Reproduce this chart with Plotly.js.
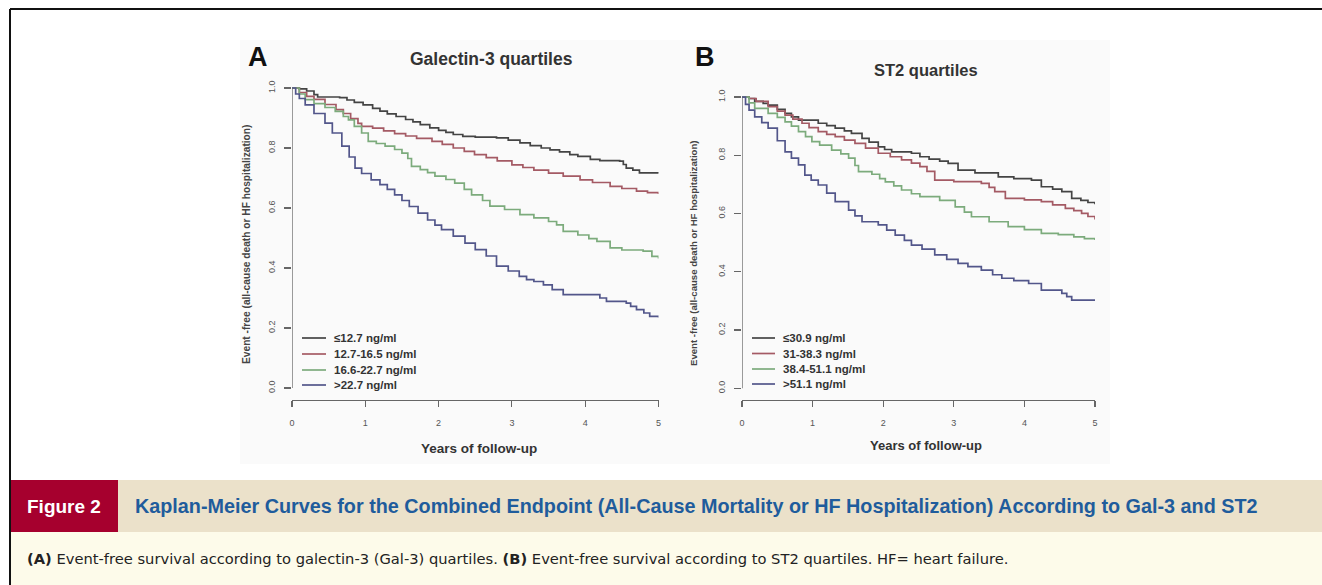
<!DOCTYPE html>
<html>
<head>
<meta charset="utf-8">
<script src="https://cdn.plot.ly/plotly-3.0.1.min.js"></script>
<style>
  html, body { margin: 0; padding: 0; background: #ffffff; }
  #chart { width: 1322px; height: 585px; }
</style>
</head>
<body>
<div id="chart"></div>
<script>
// ---- Panel A: galectin-3 quartiles (Kaplan-Meier event-free survival) ----
const galNames = ["\u226412.7 ng/ml", "12.7-16.5 ng/ml", "16.6-22.7 ng/ml", ">22.7 ng/ml"];

const galQ1Time = [0, 0.1, 0.2, 0.3, 0.35, 0.65, 0.75, 0.85, 0.97, 1.1, 1.2, 1.3, 1.42, 1.55, 1.65, 1.75, 1.88, 2.0, 2.1, 2.2, 2.33, 2.5, 2.79, 2.95, 3.11, 3.25, 3.4, 3.52, 3.65, 3.79, 3.9, 4.07, 4.2, 4.47, 4.52, 4.56, 4.65, 4.74, 5.0];
const galQ1Surv = [1.0, 0.997, 0.99, 0.978, 0.970, 0.968, 0.96, 0.952, 0.944, 0.932, 0.923, 0.914, 0.905, 0.895, 0.887, 0.878, 0.867, 0.859, 0.852, 0.845, 0.839, 0.836, 0.834, 0.826, 0.817, 0.808, 0.800, 0.794, 0.787, 0.778, 0.772, 0.762, 0.758, 0.756, 0.745, 0.733, 0.726, 0.717, 0.715];

const galQ2Time = [0, 0.1, 0.2, 0.3, 0.45, 0.6, 0.7, 0.8, 0.9, 0.95, 1.1, 1.25, 1.4, 1.55, 1.7, 1.91, 2.05, 2.2, 2.35, 2.49, 2.65, 2.8, 3.0, 3.15, 3.3, 3.5, 3.7, 3.93, 4.1, 4.34, 4.5, 4.7, 4.85, 5.0];
const galQ2Surv = [1.0, 0.985, 0.972, 0.962, 0.945, 0.928, 0.915, 0.898, 0.882, 0.872, 0.866, 0.857, 0.848, 0.84, 0.832, 0.822, 0.812, 0.800, 0.789, 0.778, 0.768, 0.757, 0.744, 0.735, 0.726, 0.716, 0.706, 0.694, 0.685, 0.672, 0.665, 0.656, 0.651, 0.647];

const galQ3Time = [0, 0.1, 0.18, 0.3, 0.45, 0.59, 0.7, 0.77, 0.85, 0.95, 1.04, 1.15, 1.27, 1.4, 1.5, 1.58, 1.63, 1.75, 1.85, 1.95, 2.1, 2.22, 2.35, 2.45, 2.6, 2.7, 2.9, 3.11, 3.3, 3.5, 3.61, 3.7, 3.9, 4.05, 4.16, 4.34, 4.5, 4.79, 4.91, 5.0];
const galQ3Surv = [1.0, 0.98, 0.961, 0.948, 0.935, 0.922, 0.905, 0.894, 0.872, 0.85, 0.822, 0.815, 0.806, 0.795, 0.783, 0.765, 0.739, 0.728, 0.718, 0.706, 0.695, 0.683, 0.662, 0.644, 0.625, 0.606, 0.595, 0.578, 0.567, 0.555, 0.544, 0.522, 0.510, 0.498, 0.489, 0.467, 0.460, 0.456, 0.439, 0.432];

const galQ4Time = [0, 0.05, 0.1, 0.18, 0.3, 0.45, 0.55, 0.68, 0.78, 0.86, 0.95, 1.08, 1.2, 1.3, 1.4, 1.5, 1.6, 1.72, 1.85, 1.95, 2.04, 2.2, 2.36, 2.5, 2.65, 2.79, 2.95, 3.1, 3.2, 3.3, 3.43, 3.55, 3.7, 4.2, 4.29, 4.56, 4.62, 4.70, 4.8, 4.88, 5.0];
const galQ4Surv = [1.0, 0.98, 0.965, 0.944, 0.915, 0.883, 0.85, 0.806, 0.77, 0.733, 0.715, 0.694, 0.678, 0.662, 0.644, 0.625, 0.605, 0.583, 0.56, 0.543, 0.528, 0.506, 0.483, 0.461, 0.44, 0.406, 0.39, 0.372, 0.361, 0.355, 0.344, 0.328, 0.311, 0.30, 0.289, 0.283, 0.272, 0.261, 0.25, 0.239, 0.235];

// ---- Panel B: ST2 quartiles ----
const st2Names = ["\u226430.9 ng/ml", "31-38.3 ng/ml", "38.4-51.1 ng/ml", ">51.1 ng/ml"];

const st2Q1Time = [0, 0.1, 0.18, 0.3, 0.37, 0.5, 0.61, 0.7, 0.8, 1.08, 1.2, 1.32, 1.45, 1.55, 1.7, 1.8, 1.93, 2.02, 2.12, 2.4, 2.52, 2.65, 2.8, 2.92, 3.06, 3.3, 3.63, 3.85, 4.1, 4.24, 4.4, 4.53, 4.67, 4.8, 4.9, 5.0];
const st2Q1Surv = [1.0, 0.995, 0.985, 0.978, 0.972, 0.958, 0.944, 0.932, 0.921, 0.910, 0.902, 0.893, 0.884, 0.875, 0.858, 0.845, 0.829, 0.82, 0.812, 0.807, 0.795, 0.787, 0.78, 0.772, 0.749, 0.74, 0.726, 0.72, 0.715, 0.692, 0.684, 0.675, 0.652, 0.645, 0.638, 0.632];

const st2Q2Time = [0, 0.1, 0.2, 0.37, 0.5, 0.61, 0.72, 0.85, 0.95, 1.08, 1.2, 1.32, 1.45, 1.6, 1.75, 1.93, 2.1, 2.26, 2.4, 2.52, 2.62, 2.73, 3.0, 3.39, 3.5, 3.58, 3.73, 4.0, 4.24, 4.4, 4.58, 4.7, 4.81, 4.9, 5.0];
const st2Q2Surv = [1.0, 0.995, 0.985, 0.967, 0.952, 0.938, 0.924, 0.910, 0.895, 0.881, 0.872, 0.864, 0.852, 0.841, 0.825, 0.807, 0.795, 0.784, 0.773, 0.761, 0.745, 0.715, 0.71, 0.704, 0.69, 0.675, 0.652, 0.647, 0.641, 0.630, 0.618, 0.61, 0.601, 0.59, 0.58];

const st2Q3Time = [0, 0.1, 0.18, 0.37, 0.5, 0.61, 0.7, 0.8, 0.9, 0.99, 1.1, 1.27, 1.4, 1.51, 1.6, 1.65, 1.84, 1.95, 2.03, 2.15, 2.26, 2.4, 2.52, 2.8, 3.02, 3.15, 3.25, 3.5, 3.77, 4.0, 4.24, 4.48, 4.7, 4.85, 5.0];
const st2Q3Surv = [1.0, 0.98, 0.961, 0.944, 0.93, 0.915, 0.9, 0.881, 0.864, 0.847, 0.835, 0.818, 0.805, 0.79, 0.765, 0.744, 0.735, 0.72, 0.709, 0.695, 0.681, 0.668, 0.658, 0.645, 0.623, 0.605, 0.589, 0.572, 0.555, 0.545, 0.532, 0.528, 0.52, 0.514, 0.509];

const st2Q4Time = [0, 0.05, 0.1, 0.18, 0.28, 0.37, 0.5, 0.61, 0.7, 0.8, 0.89, 0.98, 1.08, 1.2, 1.32, 1.51, 1.6, 1.7, 1.93, 2.05, 2.17, 2.3, 2.4, 2.55, 2.73, 2.9, 3.06, 3.2, 3.39, 3.55, 3.68, 3.85, 4.06, 4.24, 4.53, 4.6, 4.67, 5.0];
const st2Q4Surv = [1.0, 0.975, 0.955, 0.932, 0.912, 0.893, 0.85, 0.812, 0.79, 0.767, 0.732, 0.715, 0.698, 0.67, 0.641, 0.612, 0.592, 0.572, 0.561, 0.543, 0.526, 0.508, 0.492, 0.478, 0.458, 0.443, 0.429, 0.418, 0.406, 0.39, 0.378, 0.37, 0.36, 0.337, 0.326, 0.315, 0.303, 0.303];

const yTickVals = [0, 0.2, 0.4, 0.6, 0.8, 1.0];
const yTickText = ["0.0", "0.2", "0.4", "0.6", "0.8", "1.0"];
const xTickVals = [0, 1, 2, 3, 4, 5];
const xTickText = ["0", "1", "2", "3", "4", "5"];

const quartileColors = ["#444444", "#a45a64", "#7cab7c", "#52568a"];

const W = 1322, H = 585;
const px = x => x / W;          // pixel -> paper x
const py = y => 1 - y / H;      // pixel -> paper y

const galGroups = [[galQ1Time, galQ1Surv], [galQ2Time, galQ2Surv], [galQ3Time, galQ3Surv], [galQ4Time, galQ4Surv]];
const st2Groups = [[st2Q1Time, st2Q1Surv], [st2Q2Time, st2Q2Surv], [st2Q3Time, st2Q3Surv], [st2Q4Time, st2Q4Surv]];

const traces = [];
galGroups.forEach((g, i) => traces.push({
  type: "scatter", mode: "lines", x: g[0], y: g[1], name: galNames[i],
  xaxis: "x", yaxis: "y", showlegend: false,
  line: { shape: "hv", color: quartileColors[i], width: 1.7 }
}));
st2Groups.forEach((g, i) => traces.push({
  type: "scatter", mode: "lines", x: g[0], y: g[1], name: st2Names[i],
  xaxis: "x2", yaxis: "y2", showlegend: false,
  line: { shape: "hv", color: quartileColors[i], width: 1.7 }
}));

const SANS = "Liberation Sans, Arial, Helvetica, sans-serif";
const WIDE = "DejaVu Sans, Verdana, sans-serif";
const tickFont = { family: SANS, size: 9, color: "#555" };
const boldFont = (size, color) => ({ family: SANS, size: size, color: color || "#222", weight: 700 });

function xAxis(domain) {
  return {
    domain: domain, range: [0, 5], showgrid: false, zeroline: false,
    showline: true, linecolor: "#666", linewidth: 1.3, mirror: false,
    ticks: "outside", ticklen: 6, tickwidth: 1.2, tickcolor: "#666",
    tickvals: xTickVals, ticktext: xTickText, tickfont: tickFont, ticklabelstandoff: 8
  };
}
function yAxis(domain, anchor) {
  return {
    domain: domain, range: [-0.04, 1.04], anchor: anchor, showgrid: false, zeroline: false,
    showline: false, ticks: "outside", ticklen: 7, tickwidth: 1.2, tickcolor: "#666",
    tickvals: yTickVals, ticktext: yTickText, tickfont: tickFont, tickangle: -90,
    ticklabelstandoff: 5
  };
}

const shapes = [
  // figure frame and caption panels
  { type: "rect", xref: "paper", yref: "paper", x0: px(240), x1: px(1110), y0: py(464), y1: py(40), fillcolor: "#fafafa", line: { width: 0 }, layer: "below" },
  { type: "rect", xref: "paper", yref: "paper", x0: px(10), x1: px(1322), y0: py(532), y1: py(480), fillcolor: "#ebe1ca", line: { width: 0 }, layer: "below" },
  { type: "rect", xref: "paper", yref: "paper", x0: px(10), x1: px(118), y0: py(532), y1: py(480), fillcolor: "#a6002e", line: { width: 0 }, layer: "below" },
  { type: "rect", xref: "paper", yref: "paper", x0: px(10), x1: px(1322), y0: py(585), y1: py(532), fillcolor: "#fdfbea", line: { width: 0 }, layer: "below" },
  { type: "line", xref: "paper", yref: "paper", x0: px(10), x1: px(1322), y0: py(9), y1: py(9), line: { color: "#111", width: 2 } },
  { type: "line", xref: "paper", yref: "paper", x0: px(10), x1: px(10), y0: py(9), y1: py(585), line: { color: "#111", width: 2 } },
  // y axis lines spanning the tick range
  { type: "line", xref: "x", yref: "y", x0: 0, x1: 0, y0: 0, y1: 1, line: { color: "#666", width: 1.3 } },
  { type: "line", xref: "x2", yref: "y2", x0: 0, x1: 0, y0: 0, y1: 1, line: { color: "#666", width: 1.3 } }
];

function label(text, x, y, font, extra) {
  return Object.assign({ text: text, x: px(x), y: py(y), xref: "paper", yref: "paper",
    xanchor: "center", yanchor: "middle", showarrow: false, font: font }, extra || {});
}

const annotations = [
  label("A", 258, 57, boldFont(27, "#111")),
  label("B", 705, 57, boldFont(27, "#111")),
  label("Galectin-3 quartiles", 491, 59, boldFont(17.5, "#333")),
  label("ST2 quartiles", 926, 70, boldFont(16.5, "#333")),
  label("Years of follow-up", 479, 448, boldFont(13.5, "#333")),
  label("Years of follow-up", 926, 445, boldFont(13, "#333")),
  label("Event -free (all-cause death or HF hospitalization)", 246, 244, boldFont(10.2, "#444"), { textangle: -90 }),
  label("Event -free (all-cause death or HF hospitalization)", 693, 253, boldFont(9.6, "#444"), { textangle: -90 }),
  label("Figure 2", 64, 506, boldFont(19, "#ffffff")),
  label("Kaplan-Meier Curves for the Combined Endpoint (All-Cause Mortality or HF Hospitalization) According to Gal-3 and ST2",
    133, 506, boldFont(19.8, "#1f5c9c"), { xanchor: "left" }),
  label("<b>(A)</b> Event-free survival according to galectin-3 (Gal-3) quartiles. <b>(B)</b> Event-free survival according to ST2 quartiles. HF= heart failure.",
    25, 558, { family: WIDE, size: 14.7, color: "#222" }, { xanchor: "left" })
];

// in-plot legends: sample line plus label for each quartile
function addLegend(names, lineX0, lineX1, textX, rowsY) {
  names.forEach((name, i) => {
    shapes.push({ type: "line", xref: "paper", yref: "paper", x0: px(lineX0), x1: px(lineX1), y0: py(rowsY[i]), y1: py(rowsY[i]),
      line: { color: quartileColors[i], width: 1.7 } });
    annotations.push(label(name, textX, rowsY[i], boldFont(11.5, "#333"), { xanchor: "left" }));
  });
}
addLegend(galNames, 302, 326, 332, [338, 354, 370, 385]);
addLegend(st2Names, 752, 775, 781, [338, 353.5, 369, 384]);

const layout = {
  width: W, height: H,
  margin: { l: 0, r: 0, t: 0, b: 0 },
  paper_bgcolor: "#ffffff", plot_bgcolor: "rgba(0,0,0,0)",
  showlegend: false,
  xaxis: Object.assign(xAxis([px(292), px(658.5)]), { anchor: "y" }),
  yaxis: yAxis([1 - 400 / H, 1 - 76 / H], "x"),
  xaxis2: Object.assign(xAxis([px(742), px(1095)]), { anchor: "y2" }),
  yaxis2: yAxis([1 - 400 / H, 1 - 85.4 / H], "x2"),
  shapes: shapes,
  annotations: annotations
};

Plotly.newPlot("chart", traces, layout, { displayModeBar: false, staticPlot: true });
</script>
</body>
</html>
